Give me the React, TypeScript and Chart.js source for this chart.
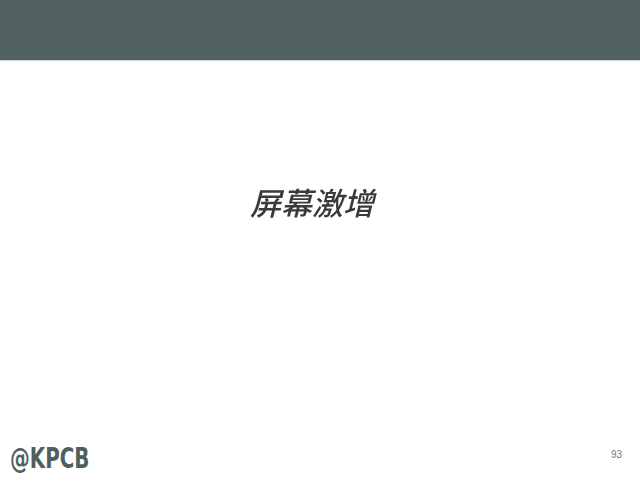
import { useEffect, useRef } from 'react'
import { Chart, registerables } from 'chart.js'

Chart.register(...registerables)

// this slide is only a section title: no series to plot
const categories: string[] = []
const values: number[] = []
const titleText = '屏幕激增'
const pageNumber = '93'

export default function App() {
  const canvasRef = useRef<HTMLCanvasElement>(null)
  const chartRef = useRef<Chart | null>(null)

  useEffect(() => {
    if (!canvasRef.current) return
    chartRef.current?.destroy()

    chartRef.current = new Chart(canvasRef.current, {
      type: 'bar',
      data: {
        labels: categories,
        datasets: [{ data: values, backgroundColor: '#506160' }],
      },
      options: {
        animation: false,
        responsive: false,
        maintainAspectRatio: false,
        layout: { padding: 0 },
        plugins: {
          legend: { display: false },
          tooltip: { enabled: false },
          title: {
            display: true,
            text: titleText,
            color: '#3a3a3a',
            padding: { top: 0, bottom: 0 },
            font: { family: '"Noto Sans CJK SC", "Noto Sans", sans-serif', size: 31, weight: '500', style: 'italic', lineHeight: 1.2 },
          },
        },
        scales: {
          x: { display: false },
          y: { display: false },
        },
      },
    })

    return () => { chartRef.current?.destroy() }
  }, [])

  return (
    <div style={{ position: 'fixed', left: 0, top: 0, width: 640, height: 481, background: '#fff', overflow: 'hidden' }}>
      <div style={{ position: 'absolute', left: 0, top: 0, width: 640, height: 60, background: '#506160' }} />
      <div style={{ position: 'absolute', left: 0, top: 60, width: 640, height: 1, background: '#c9d1cd' }} />
      <canvas ref={canvasRef} width={624} height={60} style={{ position: 'absolute', left: 0, top: 185, width: 624, height: 60 }} />
      <div style={{
        position: 'absolute', left: 10, top: 443, fontFamily: '"Liberation Sans Narrow", "DejaVu Sans Condensed", sans-serif',
        fontWeight: 'bold', fontSize: 29, lineHeight: '30px', color: '#4f5f5e', transform: 'scaleX(0.76)', transformOrigin: 'left top',
      }}>@KPCB</div>
      <div style={{
        position: 'absolute', left: 611, top: 449, fontFamily: '"Liberation Sans", Arial, sans-serif', fontSize: 10,
        lineHeight: '12px', color: '#777',
      }}>{pageNumber}</div>
    </div>
  )
}
